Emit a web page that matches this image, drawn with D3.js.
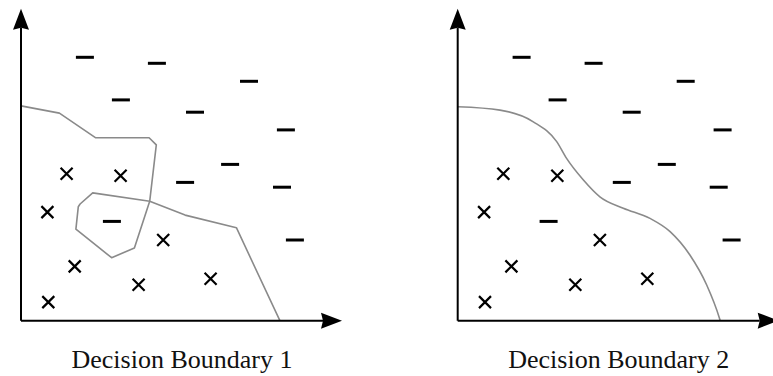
<!DOCTYPE html>
<html>
<head>
<meta charset="utf-8">
<script src="https://cdn.jsdelivr.net/npm/d3@7"></script>
<style>
  body { margin: 0; background: #fff; }
</style>
</head>
<body>
<div id="chart"></div>
<script>
// Dimensions of the picture
const width = 773;
const height = 376;

// Negative samples ("–"), feature units
const negX = [2.13, 4.53, 7.60, 3.33, 5.80, 8.83, 6.97, 5.47, 8.70, 3.03, 9.13];
const negY = [8.78, 8.58, 7.98, 7.36, 6.95, 6.36, 5.21, 4.61, 4.45, 3.31, 2.69];

// Positive samples ("×")
const posX = [1.52, 3.32, 0.88, 4.74, 1.79, 3.92, 6.32, 0.91];
const posY = [4.90, 4.83, 3.62, 2.69, 1.81, 1.20, 1.40, 0.62];

// Boundary 1: jagged outer line and the small loop around the stray "–"
const bound1X = [0, 1.28, 2.48, 4.27, 4.51, 4.29, 5.47, 7.18, 8.63];
const bound1Y = [7.16, 6.92, 6.10, 6.10, 5.86, 3.98, 3.52, 3.10, 0];
const loopX = [4.29, 2.39, 1.97, 1.91, 1.83, 3.02, 3.78, 4.29];
const loopY = [3.98, 4.26, 3.89, 3.80, 3.05, 2.10, 2.42, 3.98];

// Boundary 2: smooth curve
const bound2X = [0, 1.41, 2.52, 3.30, 3.63, 4.19, 4.74, 5.52, 6.41, 7.08, 7.74, 8.30, 8.72, 8.75];
const bound2Y = [7.13, 7.02, 6.63, 5.97, 5.41, 4.69, 4.13, 3.75, 3.41, 2.97, 2.19, 1.19, 0.10, 0];

const titles = ["Decision Boundary 1", "Decision Boundary 2"];

// Layout of the two panels (origin of each pair of axes)
const panelX = [21, 457.7];
const originY = 320.7;
const unit = 30;
const xMax = 10.7, yMax = 10.4;

const x = d3.scaleLinear().domain([0, xMax]).range([0, xMax * unit]);
const y = d3.scaleLinear().domain([0, yMax]).range([0, -yMax * unit]);

const svg = d3.select("#chart")
    .append("svg")
    .attr("width", width)
    .attr("height", height);

const line = d3.line().x(d => x(d[0])).y(d => y(d[1]));
const smooth = d3.line().x(d => x(d[0])).y(d => y(d[1])).curve(d3.curveMonotoneX);

const negs = negX.map((v, i) => [v, negY[i]]);
const poss = posX.map((v, i) => [v, posY[i]]);

titles.forEach((title, p) => {
    const g = svg.append("g")
        .attr("transform", `translate(${panelX[p]},${originY})`);

    // Boundaries
    if (p === 0) {
        g.append("path")
            .attr("d", line(bound1X.map((v, i) => [v, bound1Y[i]])))
            .attr("fill", "none")
            .attr("stroke", "#8a8a8a")
            .attr("stroke-width", 1.6)
            .attr("stroke-linejoin", "round");
        g.append("path")
            .attr("d", line(loopX.map((v, i) => [v, loopY[i]])))
            .attr("fill", "none")
            .attr("stroke", "#8a8a8a")
            .attr("stroke-width", 1.6)
            .attr("stroke-linejoin", "round");
    } else {
        g.append("path")
            .attr("d", smooth(bound2X.map((v, i) => [v, bound2Y[i]])))
            .attr("fill", "none")
            .attr("stroke", "#8a8a8a")
            .attr("stroke-width", 1.6);
    }

    // Axes with arrow heads
    const ah = 21, aw = 8;
    g.append("line")
        .attr("x1", x(0)).attr("y1", y(0))
        .attr("x2", x(xMax) - ah + 2).attr("y2", y(0))
        .attr("stroke", "#000").attr("stroke-width", 2);
    g.append("line")
        .attr("x1", x(0)).attr("y1", y(0))
        .attr("x2", x(0)).attr("y2", y(yMax) + ah - 2)
        .attr("stroke", "#000").attr("stroke-width", 2);
    g.append("path")
        .attr("d", `M${x(xMax)},0L${x(xMax) - ah},${-aw}L${x(xMax) - ah + 2},0L${x(xMax) - ah},${aw}Z`)
        .attr("fill", "#000");
    g.append("path")
        .attr("d", `M0,${y(yMax)}L${-aw},${y(yMax) + ah}L0,${y(yMax) + ah - 2}L${aw},${y(yMax) + ah}Z`)
        .attr("fill", "#000");

    // Negative samples
    g.selectAll(".neg")
        .data(negs)
        .enter().append("line")
        .attr("class", "neg")
        .attr("x1", d => x(d[0]) - 9)
        .attr("x2", d => x(d[0]) + 9)
        .attr("y1", d => y(d[1]))
        .attr("y2", d => y(d[1]))
        .attr("stroke", "#000")
        .attr("stroke-width", 3);

    // Positive samples
    g.selectAll(".pos")
        .data(poss)
        .enter().append("path")
        .attr("class", "pos")
        .attr("d", d => {
            const cx = x(d[0]), cy = y(d[1]), r = 6;
            return `M${cx - r},${cy - r}L${cx + r},${cy + r}M${cx - r},${cy + r}L${cx + r},${cy - r}`;
        })
        .attr("stroke", "#000")
        .attr("stroke-width", 2.2)
        .attr("fill", "none");

    // Title under the panel
    svg.append("text")
        .attr("x", panelX[p] + x(xMax) / 2 + 0.5)
        .attr("y", 368)
        .attr("text-anchor", "middle")
        .attr("font-family", "'Liberation Serif', 'Times New Roman', serif")
        .attr("font-size", "26px")
        .attr("fill", "#111")
        .text(title);
});
</script>
</body>
</html>
